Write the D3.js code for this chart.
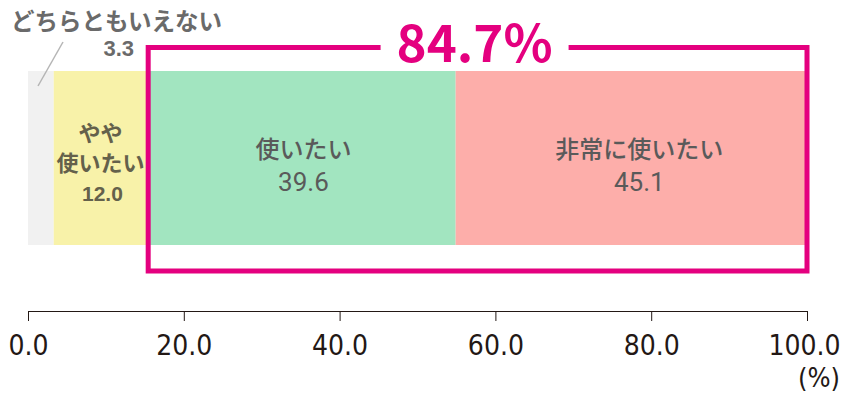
<!DOCTYPE html>
<html>
<head>
<meta charset="utf-8">
<script src="https://cdn.jsdelivr.net/npm/d3@7"></script>
<style>
  body { margin: 0; background: #fff; }
  svg { display: block; }
  .jp { font-family: "Noto Sans CJK JP", sans-serif; }
  .narrow { font-family: "DejaVu Sans Condensed", "Liberation Sans Narrow", "DejaVu Sans", sans-serif; font-stretch: condensed; }
</style>
</head>
<body>
<svg id="svg"></svg>
<script>
const width = 852;
const height = 402;

// data
const categories = ["どちらともいえない", "やや使いたい", "使いたい", "非常に使いたい"];
const values = [3.3, 12.0, 39.6, 45.1];
const colors = ["#f1f1f1", "#f8f2a9", "#a2e5c0", "#fdaeaa"];
const tickValues = [0, 20, 40, 60, 80, 100];
const highlightTotal = "84.7%";

let svg = d3.select("#svg").attr("width", width).attr("height", height);

let x = d3.scaleLinear().domain([0, 100]).range([28, 807]);

const barTop = 71;
const barBottom = 245;

// stacked segments
let stack = [];
let acc = 0;
values.forEach((v, i) => {
    stack.push({ name: categories[i], value: v, x0: acc, x1: acc + v, color: colors[i] });
    acc += v;
});

svg.append("g")
    .selectAll("rect")
    .data(stack)
    .enter()
    .append("rect")
        .attr("x", d => x(d.x0))
        .attr("y", barTop)
        .attr("width", d => x(d.x1) - x(d.x0))
        .attr("height", barBottom - barTop)
        .attr("fill", d => d.color);

// axis
let axis = svg.append("g")
    .attr("transform", "translate(0,311)")
    .call(d3.axisBottom(x).tickValues(tickValues).tickSize(10).tickSizeOuter(0).tickFormat(d3.format(".1f")));
axis.select(".domain").attr("stroke", "#231815");
axis.selectAll(".tick line").attr("stroke", "#231815");
axis.selectAll(".tick text")
    .attr("class", "narrow")
    .attr("y", 44)
    .attr("dy", 0)
    .style("font-size", "28px")
    .attr("fill", "#231815");
// last label sits a bit right of its tick, as in the original
axis.selectAll(".tick text").filter(d => d === 100).attr("x", -3);

svg.append("text")
    .attr("class", "narrow")
    .attr("x", 840)
    .attr("y", 387)
    .attr("text-anchor", "end")
    .style("font-size", "27px")
    .attr("fill", "#231815")
    .text("(%)");

// highlight box around the top two
const pink = "#e4007f";
let hx0 = x(values[0] + values[1]) + 1;
let hx1 = x(100);
let hy0 = 47.5, hy1 = 271;
let labelCenter = (hx0 + hx1) / 2 - 3;
let gapHalf = 94;

svg.append("path")
    .attr("d", `M${labelCenter - gapHalf},${hy0} H${hx0} V${hy1} H${hx1} V${hy0} H${labelCenter + gapHalf}`)
    .attr("fill", "none")
    .attr("stroke", pink)
    .attr("stroke-width", 5);

svg.append("text")
    .attr("class", "jp")
    .attr("x", labelCenter)
    .attr("y", 62)
    .attr("text-anchor", "middle")
    .style("font-size", "51px")
    .style("font-weight", "bold")
    .attr("fill", pink)
    .text(highlightTotal);

// label for the small gray segment
svg.append("line")
    .attr("x1", 63).attr("y1", 42)
    .attr("x2", 38).attr("y2", 86)
    .attr("stroke", "#b5b5b5")
    .attr("stroke-width", 1.5);

svg.append("text")
    .attr("class", "jp")
    .attr("x", 11)
    .attr("y", 30)
    .style("font-size", "23.5px")
    .style("font-weight", "bold")
    .attr("fill", "#6a6a6a")
    .text(categories[0]);

svg.append("text")
    .attr("x", 134)
    .attr("y", 56)
    .attr("text-anchor", "end")
    .style("font-family", "\"Liberation Sans\", sans-serif")
    .style("font-size", "22px")
    .style("font-weight", "bold")
    .attr("fill", "#6a6a6a")
    .text(values[0].toFixed(1));

// yellow segment label (three lines)
let yMid = (x(stack[1].x0) + x(stack[1].x1)) / 2;
let yellowText = svg.append("text")
    .attr("class", "jp")
    .attr("text-anchor", "middle")
    .style("font-weight", "bold")
    .attr("fill", "#64614b");
yellowText.append("tspan").attr("x", yMid).attr("y", 141).style("font-size", "22px").text("やや");
yellowText.append("tspan").attr("x", yMid).attr("y", 171).style("font-size", "22px").text("使いたい");
yellowText.append("tspan").attr("x", yMid + 2).attr("y", 201)
    .style("font-family", "\"Liberation Sans\", sans-serif")
    .style("font-size", "21px")
    .text(values[1].toFixed(1));

// big segment labels
stack.slice(2).forEach((d, i) => {
    let cx = (x(d.x0) + x(d.x1)) / 2 + (i === 1 ? 8 : 2);
    svg.append("text")
        .attr("class", "jp")
        .attr("x", cx)
        .attr("y", 158)
        .attr("text-anchor", "middle")
        .style("font-size", "24px")
        .style("font-weight", 500)
        .attr("fill", "#5a5a5a")
        .text(d.name);
    svg.append("text")
        .attr("x", cx)
        .attr("y", 191)
        .attr("text-anchor", "middle")
        .style("font-family", "Roboto, sans-serif")
        .style("font-size", "26px")
        .attr("fill", "#5a5a5a")
        .text(d.value.toFixed(1));
});
</script>
</body>
</html>
